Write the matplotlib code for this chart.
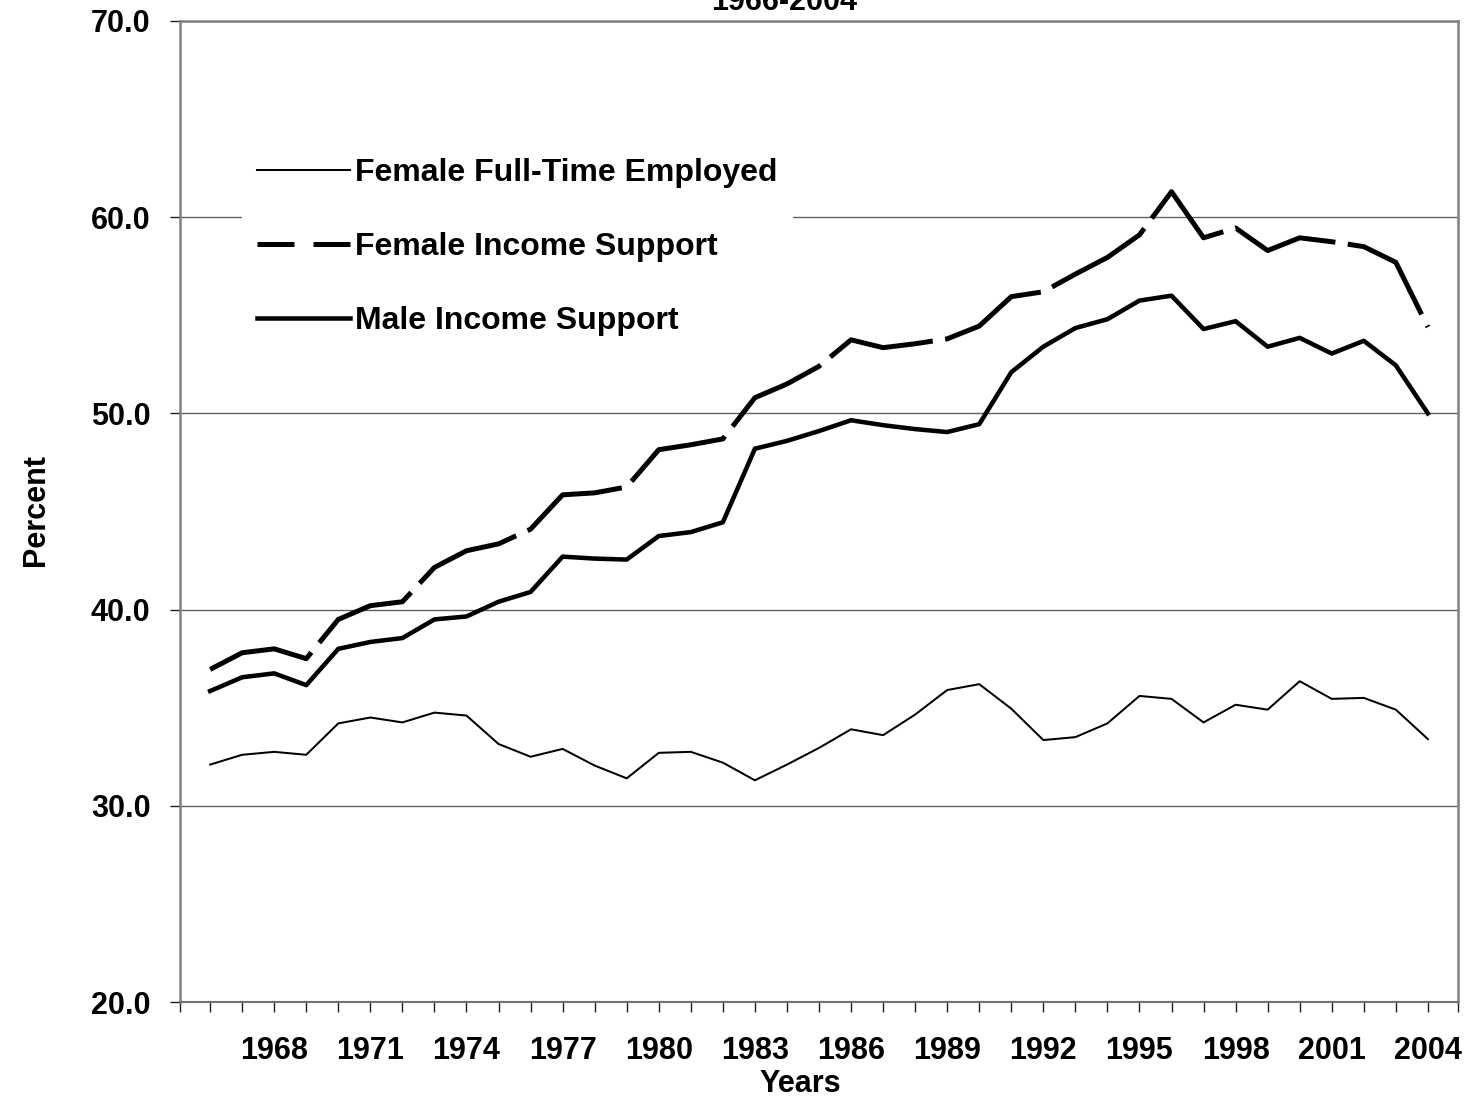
import matplotlib
matplotlib.use("Agg")
import matplotlib.pyplot as plt
from matplotlib.lines import Line2D

plt.rcParams['font.family'] = ['Liberation Sans', 'DejaVu Sans']
plt.rcParams['font.weight'] = 'bold'

# data (percent)
years = list(range(1966, 2005))
female_ft = [32.1, 32.6, 32.75, 32.6, 34.2, 34.5, 34.25, 34.75, 34.6, 33.15,
             32.5, 32.9, 32.05, 31.4, 32.7, 32.75, 32.2, 31.3, 32.1, 32.95,
             33.9, 33.6, 34.65, 35.9, 36.2, 34.95, 33.35, 33.5, 34.2, 35.6,
             35.45, 34.25, 35.15, 34.9, 36.35, 35.45, 35.5, 34.9, 33.4]
female_is = [36.95, 37.8, 38.0, 37.5, 39.5, 40.2, 40.4, 42.15, 43.0, 43.35,
             44.1, 45.85, 45.95, 46.25, 48.15, 48.4, 48.7, 50.8, 51.5, 52.4,
             53.75, 53.35, 53.55, 53.8, 54.45, 55.95, 56.2, 57.1, 57.95, 59.1,
             61.3, 58.95, 59.45, 58.3, 58.95, 58.75, 58.5, 57.7, 54.4]
male_is = [35.85, 36.55, 36.75, 36.15, 38.0, 38.35, 38.55, 39.5, 39.65, 40.4,
           40.9, 42.7, 42.6, 42.55, 43.75, 43.95, 44.45, 48.2, 48.6, 49.1,
           49.65, 49.4, 49.2, 49.05, 49.45, 52.1, 53.4, 54.35, 54.8, 55.75,
           56.0, 54.3, 54.7, 53.4, 53.85, 53.05, 53.7, 52.45, 50.0]
labels = ['Female Full-Time Employed', 'Female Income Support', 'Male Income Support']
year_labels = list(range(1968, 2005, 3))
y_ticks = [20, 30, 40, 50, 60, 70]

fig = plt.figure(figsize=(14.66, 10.99), dpi=100)
ax = fig.add_axes([180/1466, 1-1002/1099, 1278/1466, 981/1099])

ax.plot(years, female_ft, color='black', lw=1.45)
ax.plot(years, female_is, color='black', lw=3.6, linestyle=(0, (22, 2.5)))
ax.plot(years, male_is, color='black', lw=3.25)

x0, x1 = 1965.06, 2004.94
ax.set_xlim(x0, x1)
ax.set_ylim(20, 70)
ax.set_yticks(y_ticks)
ax.set_yticklabels(['%.1f' % v for v in y_ticks])
xt = [x0] + years + [x1]
ax.set_xticks(xt)
ax.set_xticklabels([str(t) if t in year_labels else '' for t in xt])

ax.grid(axis='y', color='#606060', lw=1)
ax.set_axisbelow(True)
for s in ['left', 'right', 'top']:
    ax.spines[s].set_color('#808080')
    ax.spines[s].set_linewidth(1.8)
ax.spines['bottom'].set_color('#707070')
ax.spines['bottom'].set_linewidth(1.5)

ax.tick_params(axis='both', direction='out', length=7.2, width=1, color='#202020',
               labelsize=22)
ax.tick_params(axis='y', pad=14)
ax.tick_params(axis='x', pad=17)

fig.text(784/1466, 1-10/1099, '1966-2004', ha='center', va='baseline',
         fontsize=22, fontweight='bold')
fig.text(800/1466, 1-1084/1099, 'Years', ha='center', va='center',
         fontsize=22, fontweight='bold')
fig.text(36/1466, 1-510/1099, 'Percent', ha='center', va='center', rotation=90,
         fontsize=22, fontweight='bold')

handles = [Line2D([], [], color='black', lw=1.45),
           Line2D([], [], color='black', lw=3.6, linestyle=(0, (7.4, 3.8))),
           Line2D([], [], color='black', lw=3.25)]
ax.legend(handles, labels, loc='upper left',
          bbox_to_anchor=(242/1466, 1-143/1099), bbox_transform=fig.transFigure,
          prop=dict(family='Liberation Sans', weight='bold', size=23),
          handlelength=2.91, handletextpad=0.16, labelspacing=1.38,
          borderpad=0.47, borderaxespad=0, frameon=True, fancybox=False,
          edgecolor='white', facecolor='white', framealpha=1)

fig.savefig('out.png', dpi=100)
